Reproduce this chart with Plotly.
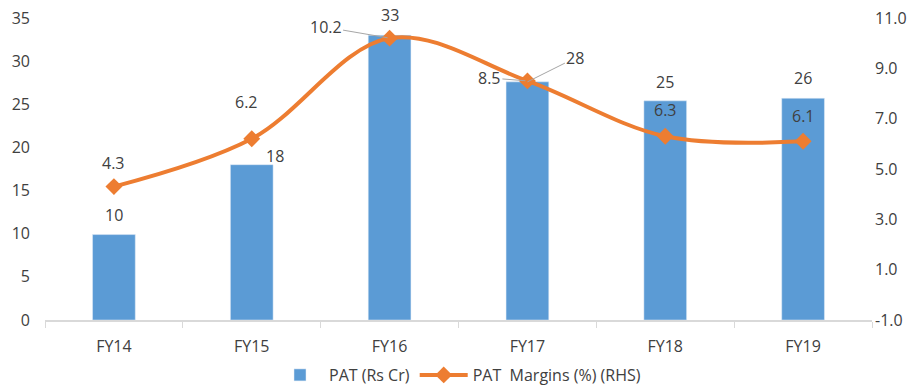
import plotly.graph_objects as go

years = ["FY14", "FY15", "FY16", "FY17", "FY18", "FY19"]
pat = [9.9, 18.0, 33.0, 27.6, 25.4, 25.7]          # PAT (Rs Cr)
margin = [4.3, 6.2, 10.2, 8.5, 6.3, 6.1]           # PAT margin (%)
rhs_ticks = [-1, 1, 3, 5, 7, 9, 11]

BLUE = "#5B9BD5"
ORANGE = "#ED7D31"
TEXT = "#404040"
FONT = "Open Sans"
FS = 16

fig = go.Figure()
fig.add_trace(go.Bar(
    x=years, y=pat, name="PAT (Rs Cr)", marker_color=BLUE,
    width=0.31, yaxis="y",
))
fig.add_trace(go.Scatter(
    x=years, y=margin, name="PAT  Margins (%) (RHS)", yaxis="y2",
    mode="lines+markers",
    line=dict(color=ORANGE, width=4, shape="spline", smoothing=1.0),
    marker=dict(symbol="diamond", size=13, color=ORANGE),
))

annotations = []
# bar value labels: (index, dx, dy) pixel offsets from the bar top
bar_offsets = {0: (0, -20), 1: (23, -9), 2: (0, -20), 4: (0, -19), 5: (0, -20)}
for i, (dx, dy) in bar_offsets.items():
    annotations.append(dict(
        x=years[i], y=pat[i], xref="x", yref="y", text=f"{pat[i]:.0f}",
        showarrow=False, xshift=dx, yshift=-dy,
        font=dict(size=FS, color=TEXT, family=FONT),
    ))
# FY17 bar label with leader line
annotations.append(dict(
    x=years[3], y=pat[3], xref="x", yref="y", text=f"{pat[3]:.0f}",
    showarrow=True, arrowhead=0, arrowwidth=1, arrowcolor="#A6A6A6",
    ax=48, ay=-24, standoff=0,
    font=dict(size=FS, color=TEXT, family=FONT),
))

# margin labels: (index, dx, dy, leader)
line_offsets = {0: (0, -24, False), 1: (-5, -37, False), 2: (-64, -11, True),
                3: (-38, -3, True), 4: (0, -26, False), 5: (0, -25, False)}
for i, (dx, dy, leader) in line_offsets.items():
    if leader:
        annotations.append(dict(
            x=years[i], y=margin[i], xref="x", yref="y2", text=f"{margin[i]:.1f}",
            showarrow=True, arrowhead=0, arrowwidth=1, arrowcolor="#A6A6A6",
            ax=dx, ay=dy, standoff=2,
            font=dict(size=FS, color=TEXT, family=FONT),
        ))
    else:
        annotations.append(dict(
            x=years[i], y=margin[i], xref="x", yref="y2", text=f"{margin[i]:.1f}",
            showarrow=False, xshift=dx, yshift=-dy,
            font=dict(size=FS, color=TEXT, family=FONT),
        ))

fig.update_layout(
    width=920, height=392,
    margin=dict(l=45, r=48, t=18, b=72, autoexpand=False),
    paper_bgcolor="white", plot_bgcolor="white",
    font=dict(family=FONT, size=FS, color=TEXT),
    showlegend=True,
    legend=dict(orientation="h", x=0.5, xanchor="center",
                yref="container", y=-0.018, yanchor="bottom",
                font=dict(size=FS, color=TEXT), itemwidth=48),
    xaxis=dict(
        showgrid=False, showline=True, linecolor="#D9D9D9", linewidth=1.5,
        ticks="outside", tickson="boundaries", ticklen=6, tickcolor="#D9D9D9",
        ticklabelstandoff=11, zeroline=False, automargin=False,
    ),
    yaxis=dict(
        range=[0, 35], dtick=5, showgrid=False, zeroline=False, showline=False,
        ticklabelstandoff=14, automargin=False,
    ),
    yaxis2=dict(
        range=[-1, 11], tickvals=rhs_ticks,
        ticktext=[f"{v:.1f}" for v in rhs_ticks], overlaying="y",
        side="right", showgrid=False, zeroline=False, showline=False,
        ticklabelstandoff=2, automargin=False,
    ),
    annotations=annotations,
    bargap=0.69,
)

fig.write_html("out.html")
